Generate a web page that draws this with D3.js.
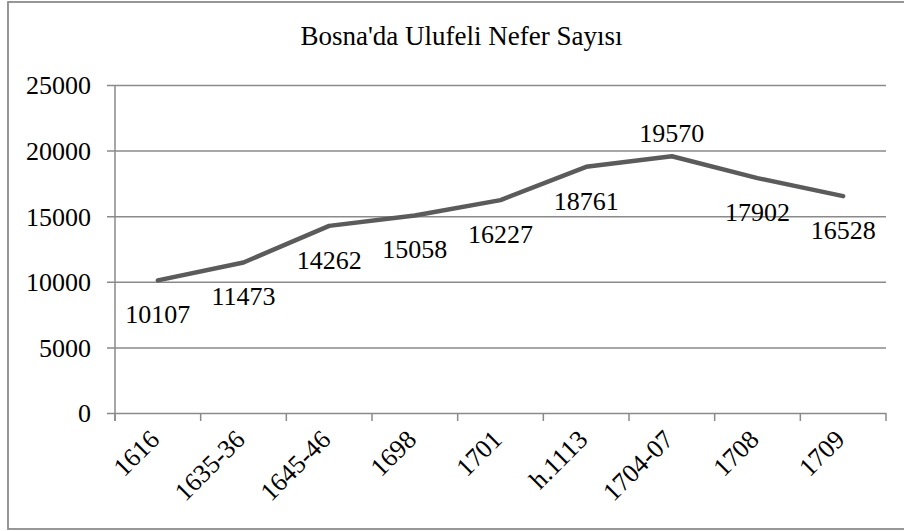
<!DOCTYPE html>
<html>
<head>
<meta charset="utf-8">
<script src="https://cdn.jsdelivr.net/npm/d3@7/dist/d3.min.js"></script>
<style>
  html, body { margin: 0; padding: 0; background: #fff; }
  svg { display: block; }
</style>
</head>
<body>
<svg id="chart" width="904" height="531"></svg>
<script>
// Bosna'da ulufeli nefer sayısı, by register year
const title = "Bosna'da Ulufeli Nefer Sayısı";
const years = ["1616", "1635-36", "1645-46", "1698", "1701", "h.1113", "1704-07", "1708", "1709"];
const soldiers = [10107, 11473, 14262, 15058, 16227, 18761, 19570, 17902, 16528];
const yTicks = [0, 5000, 10000, 15000, 20000, 25000];

const serif = '"Liberation Serif"';
const fontSize = 26;
const svg = d3.select("#chart");
const plot = { left: 115, right: 886, top: 85, bottom: 413 };
const gridColor = "#8a8a8a";

// chart frame
svg.append("rect")
  .attr("x", 8).attr("y", 2)
  .attr("width", 920).attr("height", 527)
  .attr("fill", "#fff")
  .attr("stroke", "#8c8c8c").attr("stroke-width", 1.8);

svg.append("text")
  .attr("x", 461.5).attr("y", 45)
  .attr("text-anchor", "middle")
  .style("font-family", serif)
  .style("font-size", "27px")
  .text(title);

const x = d3.scaleBand().domain(years).range([plot.left, plot.right]);
const y = d3.scaleLinear().domain([0, 25000]).range([plot.bottom, plot.top]);

// horizontal gridlines with left tick marks
const yAxis = d3.axisLeft(y).tickValues(yTicks).tickFormat(d3.format("d"))
  .tickSize(-(plot.right - plot.left)).tickSizeOuter(0);
const gy = svg.append("g").attr("transform", `translate(${plot.left},0)`).call(yAxis);
gy.select(".domain").remove();
gy.selectAll(".tick line")
  .attr("x1", -8)
  .attr("stroke", gridColor).attr("stroke-width", 1.5);
gy.selectAll(".tick text")
  .style("font-family", serif)
  .style("font-size", fontSize + "px")
  .attr("fill", "#000")
  .attr("x", -24)
  .attr("dy", "0.34em");

// vertical axis line
svg.append("line")
  .attr("x1", plot.left).attr("x2", plot.left)
  .attr("y1", plot.top).attr("y2", plot.bottom + 8)
  .attr("stroke", gridColor).attr("stroke-width", 1.5);

// category tick marks on band edges
const edges = years.map(d => x(d)).concat([x(years[years.length - 1]) + x.bandwidth()]);
svg.append("g").selectAll("line").data(edges).join("line")
  .attr("x1", d => d).attr("x2", d => d)
  .attr("y1", plot.bottom).attr("y2", plot.bottom + 8)
  .attr("stroke", gridColor).attr("stroke-width", 1.5);

// rotated category labels
svg.append("g").selectAll("text").data(years).join("text")
  .style("font-family", serif)
  .style("font-size", fontSize + "px")
  .attr("text-anchor", "end")
  .attr("transform", d => `translate(${x(d) + x.bandwidth() / 2 + 3},441) rotate(-45)`)
  .text(d => d);

// series line
const cx = d => x(d) + x.bandwidth() / 2;
const line = d3.line().x((d, i) => cx(years[i])).y(d => y(d));
svg.append("path")
  .datum(soldiers)
  .attr("d", line)
  .attr("fill", "none")
  .attr("stroke", "#5b5b5b")
  .attr("stroke-width", 4.5)
  .attr("stroke-linejoin", "round")
  .attr("stroke-linecap", "round");

// value labels: the peak sits above the line, the others below
const peak = d3.max(soldiers);
svg.append("g").selectAll("text").data(soldiers).join("text")
  .style("font-family", serif)
  .style("font-size", fontSize + "px")
  .attr("text-anchor", "middle")
  .attr("x", (d, i) => cx(years[i]))
  .attr("y", d => d === peak ? y(d) - 14.5 : y(d) + 43)
  .text(d => d);
</script>
</body>
</html>
